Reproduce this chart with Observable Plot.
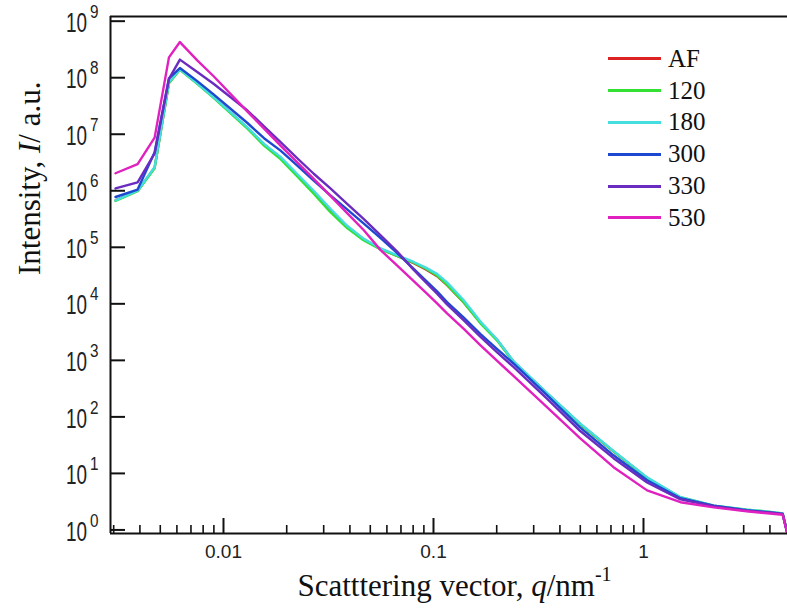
<!DOCTYPE html>
<html>
<head>
<meta charset="utf-8">
<script src="https://cdn.jsdelivr.net/npm/d3@7"></script>
<script src="https://cdn.jsdelivr.net/npm/@observablehq/plot@0.6"></script>
<style>
  html, body { margin: 0; padding: 0; background: #fff; }
  #wrap { position: relative; width: 787px; height: 616px; overflow: hidden; }
  #legend { position: absolute; left: 608px; top: 43px; font-family: "Liberation Serif", "Times New Roman", serif; font-size: 25px; color: #111; }
  #legend .row { display: flex; align-items: center; height: 31.8px; }
  #legend .sw { width: 53px; height: 3px; margin-right: 7px; }
</style>
</head>
<body>
<div id="wrap"><div id="legend"></div></div>
<script>
// ---- data ----
const series = ["AF", "120", "180", "300", "330", "530"];
const seriesColors = ["#dc2222", "#33e033", "#44dde0", "#1e48d0", "#6a2cc0", "#e021c0"];

const q = [0.00306, 0.0039, 0.0047, 0.0055, 0.0062, 0.0075, 0.009, 0.013, 0.0156, 0.0187,
           0.0224, 0.0269, 0.0323, 0.0388, 0.0466, 0.056, 0.067, 0.0805, 0.092, 0.104,
           0.116, 0.139, 0.167, 0.201, 0.241, 0.348, 0.5, 0.72, 1.04, 1.5,
           2.16, 3.1, 4.0, 4.6, 4.82];

const I_AF  = [6.76e5, 1.0e6, 2.57e6, 8.13e7, 1.41e8, 7.94e7, 4.47e7, 1.29e7, 6.61e6, 3.8e6,
               1.91e6, 9.33e5, 4.47e5, 2.34e5, 1.38e5, 9.33e4, 7.08e4, 5.25e4, 4.07e4, 3.09e4,
               2.14e4, 1.07e4, 4.68e3, 2.29e3, 933, 257, 74.1, 24.5, 8.32, 3.72,
               2.63, 2.24, 2.04, 1.91, 0.95];
const I_120 = [6.6e5, 9.8e5, 2.51e6, 7.94e7, 1.38e8, 7.76e7, 4.37e7, 1.26e7, 6.31e6, 3.63e6,
               1.82e6, 8.9e5, 4.17e5, 2.19e5, 1.32e5, 9.12e4, 7.08e4, 5.37e4, 4.17e4, 3.16e4,
               2.19e4, 1.07e4, 4.57e3, 2.24e3, 933, 257, 74.1, 24.5, 8.32, 3.80,
               2.69, 2.29, 2.09, 1.95, 0.95];
const I_180 = [6.76e5, 1.0e6, 2.63e6, 8.32e7, 1.41e8, 7.94e7, 4.47e7, 1.32e7, 6.76e6, 3.98e6,
               2.0e6, 1.0e6, 4.79e5, 2.40e5, 1.41e5, 9.55e4, 7.24e4, 5.50e4, 4.37e4, 3.39e4,
               2.40e4, 1.17e4, 4.90e3, 2.34e3, 955, 263, 75.9, 25.1, 8.51, 3.80,
               2.69, 2.29, 2.09, 1.95, 0.95];
const I_300 = [7.76e5, 1.05e6, 4.79e6, 9.77e7, 1.48e8, 8.71e7, 5.01e7, 1.58e7, 8.51e6, 5.13e6,
               2.82e6, 1.51e6, 8.32e5, 4.68e5, 2.63e5, 1.45e5, 7.94e4, 4.17e4, 2.57e4, 1.66e4,
               1.07e4, 5.75e3, 2.95e3, 1.58e3, 871, 240, 64.6, 20.9, 7.59, 3.63,
               2.69, 2.24, 2.04, 1.91, 0.93];
const I_330 = [1.10e6, 1.41e6, 4.57e6, 9.55e7, 2.09e8, 1.26e8, 7.76e7, 2.63e7, 1.38e7, 7.24e6,
               3.80e6, 2.0e6, 1.10e6, 5.89e5, 3.16e5, 1.62e5, 8.51e4, 3.98e4, 2.40e4, 1.51e4,
               9.77e3, 5.13e3, 2.63e3, 1.38e3, 759, 209, 56.2, 18.6, 6.92, 3.47,
               2.63, 2.19, 2.04, 1.91, 0.93];
const I_530 = [2.04e6, 2.95e6, 8.71e6, 2.29e8, 4.27e8, 2.02e8, 1.05e8, 2.51e7, 1.26e7, 6.31e6,
               3.21e6, 1.62e6, 8.13e5, 4.02e5, 2.0e5, 8.91e4, 4.79e4, 2.51e4, 1.58e4, 1.02e4,
               6.76e3, 3.63e3, 1.86e3, 977, 525, 148, 41.7, 12.9, 5.01, 3.09,
               2.51, 2.14, 1.95, 1.86, 0.93];

const xDomain = [0.002897, 4.85];
const yDomain = [0.865, 1.21e9];

const xMajor = [0.01, 0.1, 1];
const xMajorLabels = ["0.01", "0.1", "1"];
const xMinor = [0.003, 0.004, 0.005, 0.006, 0.007, 0.008, 0.009,
                0.02, 0.03, 0.04, 0.05, 0.06, 0.07, 0.08, 0.09,
                0.2, 0.3, 0.4, 0.5, 0.6, 0.7, 0.8, 0.9,
                2, 3, 4];
const yMajor = [1, 10, 100, 1e3, 1e4, 1e5, 1e6, 1e7, 1e8, 1e9];
const yExponents = ["0", "1", "2", "3", "4", "5", "6", "7", "8", "9"];

// ---- build table ----
const values = [I_AF, I_120, I_180, I_300, I_330, I_530];
const data = series.flatMap((s, k) => q.map((qq, i) => ({series: s, q: qq, I: values[k][i]})));

const W = 787, H = 616, mL = 110, mR = 0, mT = 16, mB = 83;
const fw = W - mL - mR, fh = H - mT - mB;
const serif = "'Liberation Serif', 'Times New Roman', serif";

const plot = Plot.plot({
  width: W, height: H,
  marginLeft: mL, marginRight: mR, marginTop: mT, marginBottom: mB,
  style: {fontFamily: "'Liberation Sans', Arial, sans-serif", background: "white", overflow: "visible"},
  x: {type: "log", domain: xDomain, axis: null},
  y: {type: "log", domain: yDomain, axis: null},
  color: {domain: series, range: seriesColors},
  marks: [
    Plot.line(data, {x: "q", y: "I", z: "series", stroke: "series", strokeWidth: 2.4, strokeLinejoin: "round"}),
    // axis lines
    Plot.ruleX([xDomain[0]], {stroke: "#111", strokeWidth: 2}),
    Plot.ruleY([yDomain[0]], {stroke: "#111", strokeWidth: 2}),
    Plot.ruleY([yDomain[1]], {stroke: "#111", strokeWidth: 2}),
    // inward ticks
    Plot.tickY(yMajor, {y: d => d, insetRight: fw - 15, stroke: "#111", strokeWidth: 2}),
    Plot.tickX(xMajor, {x: d => d, insetTop: fh - 15, stroke: "#111", strokeWidth: 2}),
    Plot.tickX(xMinor, {x: d => d, insetTop: fh - 8, stroke: "#111", strokeWidth: 1.6}),
    // tick labels (text mark order matters for the styling below)
    Plot.text(yMajor, {y: d => d, text: yExponents, frameAnchor: "left", textAnchor: "end", dx: -12, dy: 2, fontSize: 27, fill: "#222"}),
    Plot.text(xMajor, {x: d => d, text: xMajorLabels, frameAnchor: "bottom", dy: 24, fontSize: 19, fill: "#222"}),
    // axis titles
    Plot.text(["Scatttering vector, q/nm-1"], {frameAnchor: "bottom", dx: 5.5, dy: 62, fontSize: 31, fontFamily: serif, fill: "#111"}),
    Plot.text(["Intensity, I/ a.u."], {frameAnchor: "left", dx: -80, rotate: -90, fontSize: 31, fontFamily: serif, fill: "#111"})
  ]
});

document.getElementById("wrap").prepend(plot);

const textGroups = plot.querySelectorAll('g[aria-label="text"]');
const NS = "http://www.w3.org/2000/svg";

// y tick labels: "10" with a raised exponent, narrow tall glyphs like the reference
if (textGroups[0]) textGroups[0].querySelectorAll("text").forEach(t => {
  const exp = t.textContent;
  while (t.firstChild) t.removeChild(t.firstChild);
  const base = document.createElementNS(NS, "tspan");
  base.textContent = "10";
  base.setAttribute("textLength", 21); base.setAttribute("lengthAdjust", "spacingAndGlyphs");
  const sup = document.createElementNS(NS, "tspan");
  sup.textContent = exp;
  sup.setAttribute("font-size", 18); sup.setAttribute("dy", -14); sup.setAttribute("dx", 3);
  sup.setAttribute("textLength", 8.5); sup.setAttribute("lengthAdjust", "spacingAndGlyphs");
  t.appendChild(base); t.appendChild(sup);
});

// mixed-style axis titles
function styleTitle(g, parts) {
  if (!g) return;
  const t = g.querySelector("text");
  if (!t) return;
  while (t.firstChild) t.removeChild(t.firstChild);
  for (const p of parts) {
    const s = document.createElementNS(NS, "tspan");
    s.textContent = p.text;
    if (p.italic) s.setAttribute("font-style", "italic");
    if (p.sup) { s.setAttribute("font-size", "20"); s.setAttribute("dy", "-15"); }
    t.appendChild(s);
  }
}
styleTitle(textGroups[2], [
  {text: "Scatttering vector, "}, {text: "q", italic: true}, {text: "/nm"}, {text: "-1", sup: true}
]);
styleTitle(textGroups[3], [
  {text: "Intensity, "}, {text: "I", italic: true}, {text: "/ a.u."}
]);

// legend
const legend = d3.select("#legend");
series.forEach((s, i) => {
  const row = legend.append("div").attr("class", "row");
  row.append("div").attr("class", "sw").style("background", seriesColors[i]);
  row.append("span").text(s);
});
</script>
</body>
</html>
